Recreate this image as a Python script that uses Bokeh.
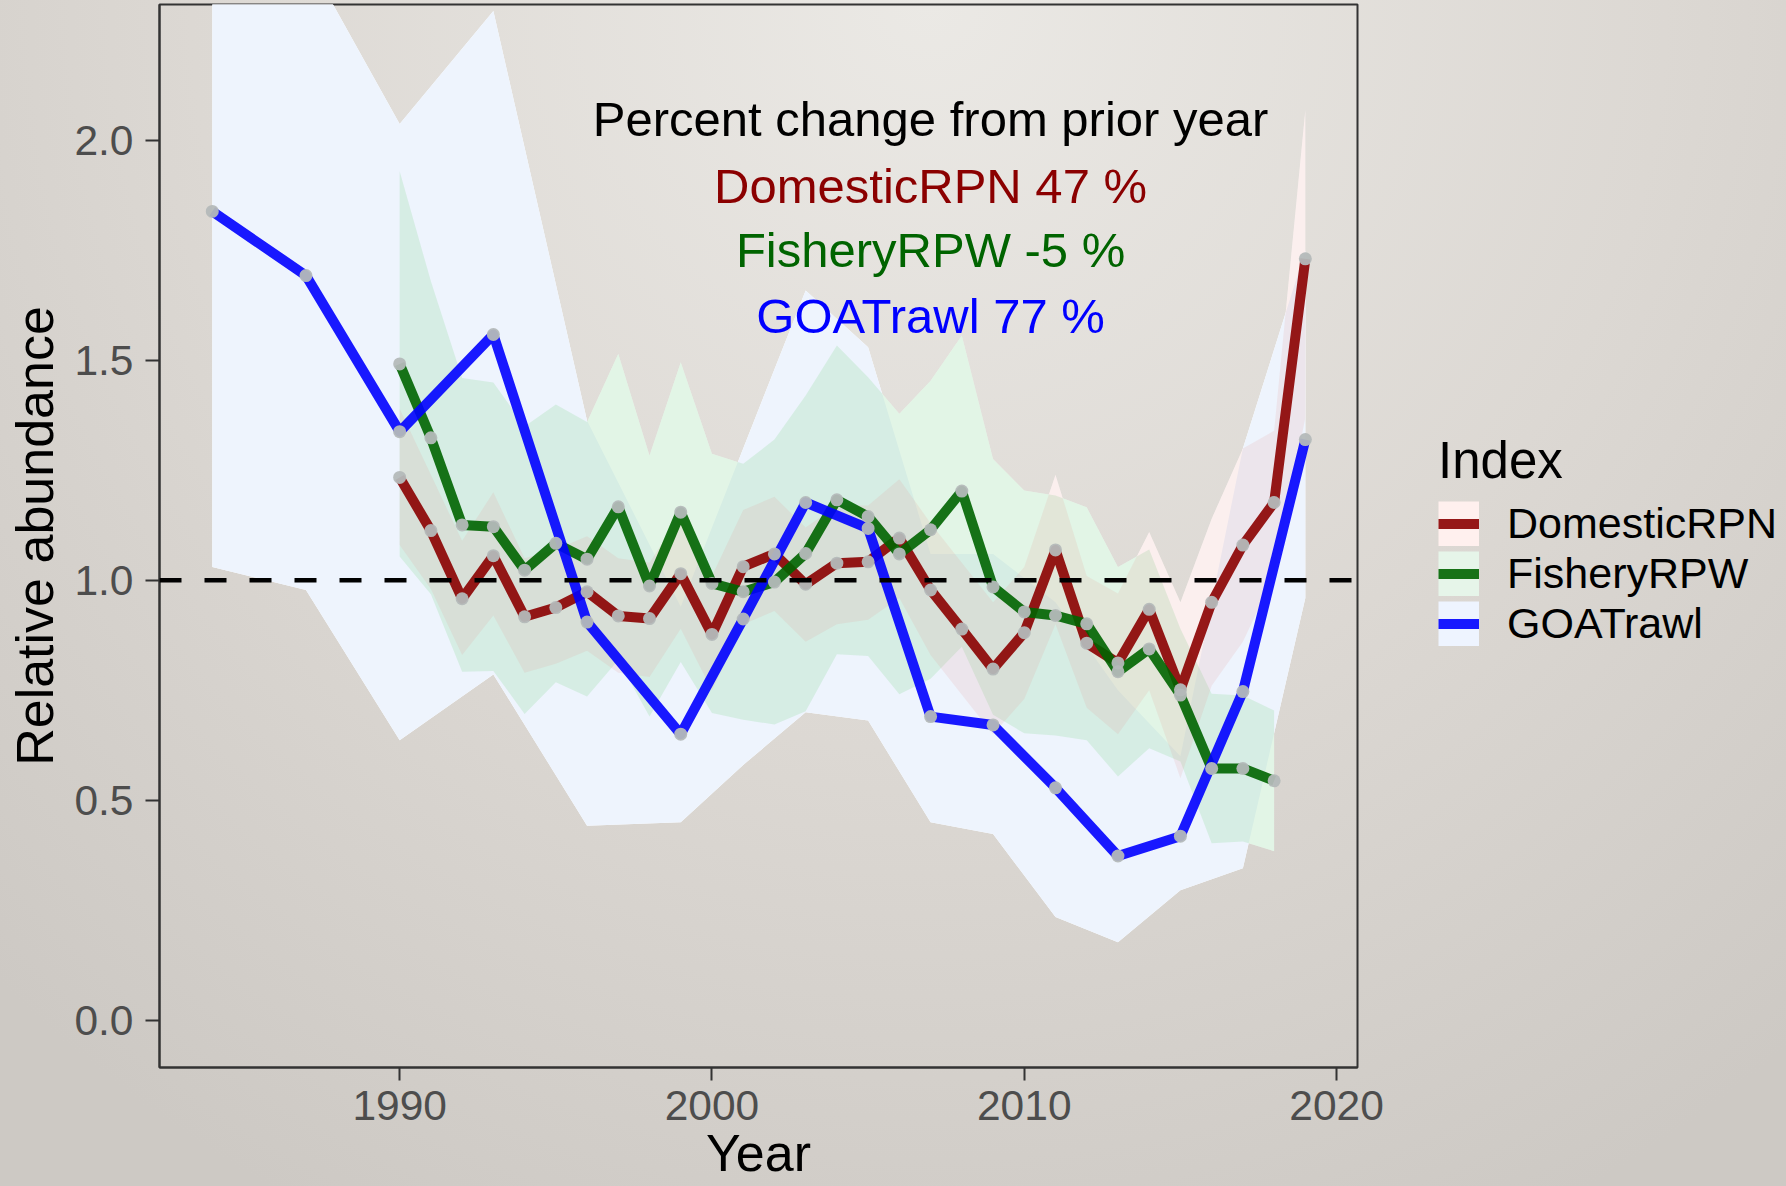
from bokeh.plotting import figure
from bokeh.layouts import row
from bokeh.models import (Range1d, Span, Legend, LegendItem, ColumnDataSource,
                          NumeralTickFormatter, FixedTicker)
from bokeh.core.properties import value
from bokeh.embed import file_html
from bokeh.resources import INLINE

# ---------------- data ----------------
dom_years = list(range(1990, 2020))
dom_est = [1.234, 1.113, 0.958, 1.056, 0.917, 0.938, 0.974, 0.919, 0.913, 1.015,
           0.877, 1.031, 1.060, 0.991, 1.039, 1.042, 1.096, 0.978, 0.889, 0.798,
           0.881, 1.069, 0.857, 0.812, 0.934, 0.751, 0.950, 1.080, 1.177, 1.731]
dom_lo = [1.08, 0.98, 0.83, 0.92, 0.79, 0.81, 0.84, 0.79, 0.78, 0.89,
          0.75, 0.90, 0.93, 0.86, 0.90, 0.91, 0.96, 0.83, 0.74, 0.65,
          0.73, 0.90, 0.71, 0.65, 0.75, 0.55, 0.76, 0.86, 1.01, 1.37]
dom_hi = [1.39, 1.24, 1.09, 1.20, 1.05, 1.07, 1.10, 1.05, 1.04, 1.15,
          1.01, 1.16, 1.19, 1.12, 1.17, 1.17, 1.23, 1.13, 1.04, 0.95,
          1.03, 1.24, 1.01, 0.97, 1.11, 0.95, 1.14, 1.30, 1.34, 2.07]

fish_years = list(range(1990, 2019))
fish_est = [1.492, 1.324, 1.126, 1.122, 1.023, 1.084, 1.048, 1.167, 0.987, 1.155,
            0.993, 0.974, 0.996, 1.061, 1.183, 1.145, 1.060, 1.115, 1.203, 0.985,
            0.928, 0.920, 0.901, 0.792, 0.844, 0.739, 0.572, 0.572, 0.544]
fish_lo = [1.054, 0.968, 0.792, 0.794, 0.696, 0.768, 0.736, 0.819, 0.690, 0.814,
           0.698, 0.683, 0.672, 0.702, 0.832, 0.828, 0.741, 0.776, 0.849, 0.694,
           0.652, 0.647, 0.636, 0.554, 0.618, 0.588, 0.402, 0.406, 0.384]
fish_hi = [1.930, 1.680, 1.460, 1.450, 1.350, 1.400, 1.360, 1.515, 1.284, 1.496,
           1.288, 1.265, 1.320, 1.420, 1.534, 1.462, 1.379, 1.454, 1.557, 1.276,
           1.204, 1.193, 1.166, 1.030, 1.070, 0.890, 0.742, 0.738, 0.704]

goa_years = [1984, 1987, 1990, 1993, 1996, 1999, 2001, 2003, 2005, 2007,
             2009, 2011, 2013, 2015, 2017, 2019]
goa_est = [1.839, 1.693, 1.338, 1.559, 0.905, 0.650, 0.912, 1.177, 1.118, 0.690,
           0.671, 0.528, 0.373, 0.418, 0.747, 1.320]
goa_lo = [1.030, 0.978, 0.636, 0.786, 0.442, 0.450, 0.580, 0.700, 0.681, 0.450,
          0.423, 0.234, 0.177, 0.295, 0.345, 0.960]
goa_hi = [2.700, 2.420, 2.038, 2.295, 1.363, 0.940, 1.300, 1.659, 1.530, 1.060,
          1.060, 0.950, 0.750, 0.600, 1.300, 1.750]

series_names = ["DomesticRPN", "FisheryRPW", "GOATrawl"]
note_lines = ["Percent change from prior year", "DomesticRPN 47 %",
              "FisheryRPW -5 %", "GOATrawl 77 %"]
note_values = [2.050, 1.897, 1.751, 1.601]
note_year = 2007
x_ticks = [1990, 2000, 2010, 2020]
y_ticks = [0.0, 0.5, 1.0, 1.5, 2.0]
ref_level = 1.0

# ---------------- layout / styling ----------------
FONT = "Liberation Sans"
line_colors = ["#8B0000", "#006400", "#0000FF"]
note_colors = ["#000000", "#8B0000", "#006400", "#0000FF"]
key_colors = ["#fff0ee", "#e6f5e9", "#eef4ff"]
GRADIENT = ("radial-gradient(ellipse 75% 115% at 52% 0%, "
            "#ebe9e5 0%, #dcd8d3 55%, #cdc9c4 100%)")

W, H = 1786, 1186
MAIN_W = 1392
LEFT, TOP, BOTTOM = 159, 4, 119
PANEL_W = 1198
RIGHT = MAIN_W - LEFT - PANEL_W
x_lo, x_hi = 1982.31, 2020.67
y_lo, y_hi = -0.108, 2.3095

p = figure(width=MAIN_W, height=H, output_backend="svg", toolbar_location=None,
           x_range=Range1d(x_lo, x_hi), y_range=Range1d(y_lo, y_hi),
           min_border_left=LEFT, min_border_right=RIGHT, min_border_top=TOP,
           min_border_bottom=BOTTOM)
p.background_fill_alpha = 0
p.border_fill_alpha = 0
p.outline_line_color = "#333333"
p.outline_line_width = 2
p.xgrid.grid_line_color = None
p.ygrid.grid_line_color = None

for ax, tick_out, standoff in ((p.xaxis, 13, 10), (p.yaxis, 14, 12)):
    ax.axis_line_color = "#333333"
    ax.axis_line_width = 2
    ax.major_tick_line_color = "#333333"
    ax.major_tick_line_width = 2
    ax.major_tick_out = tick_out
    ax.major_tick_in = 0
    ax.minor_tick_line_color = None
    ax.major_label_text_font = FONT
    ax.major_label_text_font_size = "42.5px"
    ax.major_label_text_color = "#4d4d4d"
    ax.major_label_standoff = standoff
    ax.axis_label_text_font = FONT
    ax.axis_label_text_font_size = "52px"
    ax.axis_label_text_font_style = "normal"
    ax.axis_label_text_color = "black"
p.xaxis.ticker = FixedTicker(ticks=x_ticks)
p.yaxis.ticker = FixedTicker(ticks=y_ticks)
p.yaxis.formatter = NumeralTickFormatter(format="0.0")
p.xaxis.axis_label = "Year"
p.xaxis.axis_label_standoff = 1
p.yaxis.axis_label = "Relative abundance"
p.yaxis.axis_label_standoff = 7

dom_src = ColumnDataSource(dict(x=dom_years, y=dom_est, lo=dom_lo, hi=dom_hi))
fish_src = ColumnDataSource(dict(x=fish_years, y=fish_est, lo=fish_lo, hi=fish_hi))
goa_src = ColumnDataSource(dict(x=goa_years, y=goa_est, lo=goa_lo, hi=goa_hi))
srcs = [dom_src, fish_src, goa_src]

# white base under every ribbon (ribbons look like they were drawn on white)
for s in srcs:
    p.varea(x="x", y1="lo", y2="hi", source=s, fill_color="white", fill_alpha=1.0)

p.varea(x="x", y1="lo", y2="hi", source=goa_src, fill_color="#eef4fd", fill_alpha=1.0)
p.varea(x="x", y1="lo", y2="hi", source=fish_src, fill_color=(158, 222, 172), fill_alpha=0.3)
p.varea(x="x", y1="lo", y2="hi", source=dom_src, fill_color=(228, 148, 142), fill_alpha=0.15)

LINE_W, LINE_A = 10, 0.9
for s, c in zip(srcs, line_colors):
    p.line(x="x", y="y", source=s, line_color=c, line_width=LINE_W, line_alpha=LINE_A,
           line_join="round")

for s in srcs:
    p.scatter(x="x", y="y", source=s, size=13, fill_color="#b4b9b9",
              line_color=None, fill_alpha=0.95)

p.add_layout(Span(location=ref_level, dimension="width", line_color="black",
                  line_width=4.5, line_dash="22 23"))

note_src = ColumnDataSource(dict(x=[note_year] * len(note_lines), y=note_values,
                                 text=note_lines, color=note_colors))
p.text(x="x", y="y", text="text", source=note_src, text_color="color",
       text_font=value(FONT), text_font_size="49px", text_align="center",
       text_baseline="alphabetic")

# ---------------- legend in a narrow companion figure ----------------
q = figure(width=W - MAIN_W, height=H, output_backend="svg", toolbar_location=None,
           x_range=Range1d(0, 1), y_range=Range1d(0, 1),
           x_axis_location=None, y_axis_location=None, min_border=0)
q.background_fill_alpha = 0
q.border_fill_alpha = 0
q.outline_line_color = None
q.grid.visible = False

# legend-only renderers: their points lie outside q's ranges, so only the keys show
off_x, off_y = [2, 3], [2, 2]
GLYPH_H = 45
items = []
for name, kc, c in zip(series_names, key_colors, line_colors):
    box = q.line(x=off_x, y=off_y, line_color=kc, line_width=GLYPH_H)
    ln = q.line(x=off_x, y=off_y, line_color=c, line_width=LINE_W, line_alpha=LINE_A)
    items.append(LegendItem(label=name, renderers=[box, ln]))

legend = Legend(items=items, location=(1438 - MAIN_W, 419), title="Index",
                title_text_font=FONT, title_text_font_size="51px",
                title_text_font_style="normal", title_text_color="black",
                title_standoff=9,
                label_text_font=FONT, label_text_font_size="43px",
                label_text_color="black",
                label_standoff=28, glyph_width=41, glyph_height=GLYPH_H,
                spacing=1, padding=0, margin=0,
                border_line_color=None, background_fill_alpha=0)
q.add_layout(legend, "center")

layout = row(p, q, spacing=0)
layout.styles = {"background": GRADIENT}

open("out.html", "w").write(file_html(layout, INLINE))
